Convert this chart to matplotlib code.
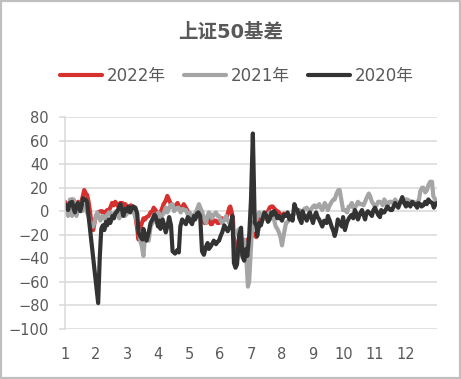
import matplotlib
matplotlib.use("Agg")
import matplotlib.pyplot as plt
from matplotlib.patches import Rectangle

plt.rcParams['font.family'] = ['DejaVu Sans', 'Noto Sans CJK SC']

title = "上证50基差"
labels = ["2022年", "2021年", "2020年"]
colors = ["#D7312F", "#A5A5A5", "#333333"]
month_ticks = list(range(1, 13))
y_ticks = [80, 60, 40, 20, 0, -20, -40, -60, -80, -100]

# 2022 series (month position, basis)
x2022 = [1.00, 1.05, 1.10, 1.16, 1.23, 1.28, 1.32, 1.37, 1.42, 1.49, 1.55, 1.60, 1.62, 1.67, 1.71,
         1.76, 1.81, 1.86, 1.91, 1.97, 2.02, 2.07, 2.14, 2.20, 2.25, 2.30, 2.36, 2.40, 2.46, 2.52,
         2.57, 2.62, 2.67, 2.72, 2.78, 2.85, 2.90, 2.95, 3.00, 3.05, 3.12, 3.18, 3.23, 3.27, 3.33,
         3.37, 3.42, 3.48, 3.53, 3.58, 3.63, 3.70, 3.76, 3.82, 3.86, 3.92, 4.00, 4.05, 4.10, 4.18,
         4.25, 4.30, 4.35, 4.40, 4.45, 4.50, 4.57, 4.63, 4.68, 4.73, 4.78, 4.83, 4.90, 4.96, 5.02,
         5.06, 5.12, 5.16, 5.22, 5.28, 5.34, 5.40, 5.45, 5.50, 5.55, 5.64, 5.70, 5.74, 5.80, 5.87,
         5.92, 5.97, 6.02, 6.07, 6.14, 6.20, 6.25, 6.30, 6.33, 6.38, 6.42, 6.45, 6.50, 6.55, 6.60,
         6.64, 6.72, 6.78, 6.84, 6.90, 6.95, 7.04, 7.10, 7.17, 7.22, 7.27, 7.32, 7.38, 7.43, 7.50,
         7.55, 7.60, 7.65, 7.70, 7.76, 7.80, 7.85, 7.90, 7.95, 8.00, 8.06, 8.13, 8.18, 8.24]
y2022 = [8, 5, 4, 7, 10, 6, 6, 4, 8, 6, 10, 16, 18, 15, 14,
         8, -1, -12, -16, -7, -3, -1, 0, 0, -2, -1, 1, 0, 3, 7,
         5, 8, 6, 4, 7, 7, 5, 6, 3, 1, 5, 4, 2, -4, -15,
         -24, -15, -10, -6, -7, -5, -4, -1, 0, 3, 1, -4, -1, 0, 6,
         9, 13, 10, 7, 5, 3, 5, 7, 4, 1, 3, 6, 3, 0, -3,
         -6, -8, -7, -5, -4, -1, -3, -8, -10, -10, -7, -11, -11, -8, -8,
         -10, -10, -8, -6, -7, -7, -2, 3, 4, -1, -8, -24, -34, -40, -25,
         -18, -29, -25, -27, -24, -22, -18, -20, -22, -12, -7, -6, -5, -6, -4,
         0, 3, 4, 4, 2, 1, 0, -1, -3, -4, -2, -3, -2, -4]

# 2021 series
x2021 = [1.00, 1.05, 1.10, 1.16, 1.23, 1.28, 1.32, 1.37, 1.42, 1.49, 1.55, 1.62, 1.71, 1.76, 1.81,
         1.88, 1.91, 1.97, 2.04, 2.09, 2.14, 2.20, 2.23, 2.30, 2.36, 2.42, 2.46, 2.52, 2.58, 2.64,
         2.69, 2.75, 2.80, 2.88, 2.94, 3.00, 3.06, 3.10, 3.20, 3.27, 3.33, 3.40, 3.43, 3.48, 3.53,
         3.58, 3.63, 3.70, 3.76, 3.82, 3.92, 3.97, 4.02, 4.08, 4.12, 4.18, 4.25, 4.30, 4.35, 4.40,
         4.47, 4.52, 4.58, 4.63, 4.67, 4.73, 4.80, 4.85, 4.90, 4.96, 5.02, 5.10, 5.16, 5.22, 5.28,
         5.32, 5.38, 5.42, 5.48, 5.55, 5.60, 5.64, 5.70, 5.74, 5.80, 5.87, 5.92, 5.97, 6.02, 6.07,
         6.14, 6.20, 6.25, 6.30, 6.36, 6.40, 6.45, 6.50, 6.56, 6.62, 6.68, 6.73, 6.78, 6.84, 6.90,
         6.94, 7.00, 7.04, 7.10, 7.17, 7.22, 7.27, 7.32, 7.37, 7.43, 7.50, 7.55, 7.60, 7.66, 7.70,
         7.75, 7.80, 7.85, 7.90, 7.95, 8.00, 8.07, 8.13, 8.18, 8.24, 8.30, 8.34, 8.40, 8.47, 8.56,
         8.60, 8.66, 8.72, 8.80, 8.85, 8.90, 8.95, 9.00, 9.05, 9.10, 9.15, 9.20, 9.25, 9.30, 9.38,
         9.44, 9.48, 9.54, 9.60, 9.66, 9.70, 9.76, 9.82, 9.86, 9.93, 9.97, 10.03, 10.10, 10.15, 10.20,
         10.25, 10.30, 10.35, 10.40, 10.45, 10.52, 10.58, 10.63, 10.68, 10.74, 10.80, 10.84, 10.90, 10.95, 11.00,
         11.05, 11.10, 11.16, 11.20, 11.25, 11.30, 11.36, 11.40, 11.46, 11.50, 11.55, 11.60, 11.65, 11.70, 11.75,
         11.80, 11.88, 11.94, 12.00, 12.04, 12.10, 12.14, 12.20, 12.25, 12.30, 12.36, 12.42, 12.46, 12.52, 12.56,
         12.62, 12.68, 12.72, 12.78, 12.84, 12.88, 12.94, 13.00]
y2021 = [-1, 3, -4, 10, -4, 10, 3, -4, 7, 7, 0, 5, -1, -4, -10,
         -12, -13, -7, -1, -5, -8, -4, -4, -7, -3, -1, -1, -6, -2, 0,
         0, -6, -3, -1, -4, -2, 0, 0, -1, -4, -10, -20, -25, -30, -38,
         -21, -22, -25, -13, -10, -7, -3, -1, -8, -4, -2, 3, -1, 2, 5,
         6, 0, 2, 3, 3, -1, 2, 1, 1, -3, -1, -6, -3, -1, 3,
         6, 2, 0, -6, -10, -4, -1, -3, -6, -3, -1, -4, -4, -8, -10,
         -7, -4, -8, -10, -12, -15, -17, -20, -17, -15, -36, -30, -24, -35, -64,
         -60, -30, -11, -9, -7, -3, -1, -4, -4, -6, -7, -3, -1, -2, -4,
         -8, -13, -15, -18, -22, -29, -18, -10, -9, -7, -5, -4, -2, -1, 1,
         -1, -1, 2, 3, 1, 0, 2, 4, 5, 3, 4, 6, 3, 1, 7,
         4, 1, 5, 8, 10, 10, 15, 18, 18, 7, 1, 1, -1, 4, 4,
         7, 3, 3, 5, 8, 6, 6, 5, 8, 12, 15, 13, 8, 6, 4,
         5, 8, 8, 7, 5, 10, 7, 4, 8, 8, 8, 6, 10, 8, 7,
         7, 8, 8, 10, 10, 9, 8, 8, 8, 7, 7, 10, 17, 20, 20,
         16, 18, 22, 25, 25, 13, 10, 7]

# 2020 series
x2020 = [1.00, 1.05, 1.10, 1.15, 1.23, 1.28, 1.32, 1.37, 1.42, 1.49, 1.53, 1.58, 1.65, 1.71, 2.07,
         2.12, 2.17, 2.22, 2.27, 2.32, 2.36, 2.41, 2.46, 2.53, 2.58, 2.62, 2.69, 2.74, 2.79, 2.84,
         2.88, 2.94, 3.00, 3.05, 3.10, 3.15, 3.20, 3.27, 3.33, 3.37, 3.44, 3.50, 3.53, 3.58, 3.63,
         3.70, 3.76, 3.82, 3.88, 3.92, 4.00, 4.04, 4.08, 4.15, 4.20, 4.25, 4.30, 4.36, 4.42, 4.47,
         4.55, 4.62, 4.67, 4.72, 4.78, 4.84, 4.90, 4.96, 5.00, 5.05, 5.10, 5.16, 5.20, 5.26, 5.30,
         5.36, 5.42, 5.48, 5.55, 5.60, 5.64, 5.70, 5.74, 5.80, 5.87, 5.92, 5.97, 6.02, 6.07, 6.14,
         6.20, 6.25, 6.30, 6.36, 6.40, 6.45, 6.50, 6.55, 6.62, 6.68, 6.72, 6.78, 6.84, 6.88, 6.94,
         7.00, 7.06, 7.12, 7.17, 7.20, 7.27, 7.32, 7.37, 7.43, 7.50, 7.55, 7.60, 7.66, 7.70, 7.75,
         7.80, 7.85, 7.90, 8.00, 8.06, 8.13, 8.18, 8.24, 8.30, 8.34, 8.40, 8.45, 8.50, 8.56, 8.63,
         8.66, 8.72, 8.80, 8.85, 8.90, 8.95, 9.00, 9.05, 9.10, 9.15, 9.20, 9.25, 9.30, 9.36, 9.44,
         9.48, 9.54, 9.60, 9.66, 9.70, 9.75, 9.80, 9.86, 9.93, 9.97, 10.03, 10.10, 10.18, 10.25, 10.30,
         10.35, 10.40, 10.45, 10.52, 10.58, 10.63, 10.68, 10.72, 10.77, 10.84, 10.90, 10.95, 11.00, 11.05, 11.10,
         11.16, 11.20, 11.25, 11.30, 11.36, 11.40, 11.46, 11.50, 11.55, 11.60, 11.65, 11.70, 11.75, 11.82, 11.88,
         11.94, 12.00, 12.04, 12.10, 12.14, 12.20, 12.25, 12.30, 12.36, 12.40, 12.46, 12.50, 12.56, 12.62, 12.67,
         12.72, 12.78, 12.85, 12.90, 12.95, 13.00]
y2020 = [6, 3, 1, 7, 8, 2, -1, 5, 7, 0, 4, 11, 10, 8, -78,
         -40, -15, -12, -16, -9, -12, -7, -10, -4, -6, -2, 0, 3, 6, 1,
         -4, 2, 0, 4, -1, 2, 4, 3, -2, -18, -22, -24, -15, -20, -25,
         -18, -10, -7, -3, -4, -13, -8, -15, -7, -12, -18, -13, -5, -12, -34,
         -36, -33, -35, -13, -7, -9, -11, -5, -6, -9, -11, -4, -7, -2, -1,
         -4, -34, -37, -30, -27, -32, -30, -28, -25, -28, -26, -25, -21, -18, -12,
         -15, -17, -14, -10, -4, -44, -48, -45, -20, -14, -38, -42, -32, -38, -22,
         10, 66, -10, -12, -21, -10, -12, -7, -1, -4, -9, -7, -1, -3, 0,
         -2, -6, -4, -8, -3, -4, -1, -7, -4, -8, 6, 2, 1, -6, -10,
         0, -4, -8, -3, -1, -6, -10, -4, -1, -5, -7, -10, -13, -8, -10,
         -4, -8, -13, -17, -21, -16, -7, -10, -13, -5, -16, -9, -5, -3, -6,
         1, -2, -7, -2, 1, -3, -7, -2, 0, -2, -4, 1, 3, 0, -3,
         -5, 1, -1, -1, 2, 4, 2, 1, 1, 4, 7, 5, 3, 8, 12,
         7, 4, 7, 6, 4, 8, 6, 6, 3, 7, 6, 4, 5, 8, 6,
         10, 8, 7, 3, 6, 7]

W, H = 461, 379
fig = plt.figure(figsize=(W / 100, H / 100), dpi=100)
ax = fig.add_axes([65 / W, 1 - 329 / H, (437 - 65) / W, (329 - 117) / H])

series = [(x2022, y2022), (x2021, y2021), (x2020, y2020)]
for (xs, ys), lab, c in zip(series, labels, colors):
    ax.plot(xs, ys, color=c, lw=3.0, label=lab, solid_joinstyle='round', solid_capstyle='round')

ax.set_xlim(1, 13)
ax.set_ylim(-100, 80)
ax.set_yticks(y_ticks)
ax.set_xticks(month_ticks)
ax.set_xticklabels([str(m) for m in month_ticks])

grid_c = "#D9D9D9"
txt_c = "#595959"
ax.yaxis.grid(True, color=grid_c, lw=1.1)
ax.set_axisbelow(True)
for s in ["top", "right", "bottom"]:
    ax.spines[s].set_visible(False)
ax.spines["left"].set_color(grid_c)
ax.spines["left"].set_linewidth(1.1)
ax.tick_params(axis='y', length=4.5, width=1.1, color=grid_c, pad=7, labelsize=10.5, labelcolor=txt_c)
ax.tick_params(axis='x', length=0, pad=13, labelsize=10.5, labelcolor=txt_c)

fig.text(0.5, 1 - 32 / H, title, ha='center', va='center', fontsize=14, fontweight='bold', color=txt_c)

fig.legend(loc='center', bbox_to_anchor=(237 / W, 1 - 76 / H), ncol=3, frameon=False,
           fontsize=12, handlelength=2.5, handletextpad=0.3, columnspacing=1.1, labelcolor=txt_c)

fig.patches.append(Rectangle((0, 0), 1, 1, transform=fig.transFigure, fill=False,
                             ec="#BFBFBF", lw=3, zorder=10))

fig.savefig("out.png", dpi=100)
